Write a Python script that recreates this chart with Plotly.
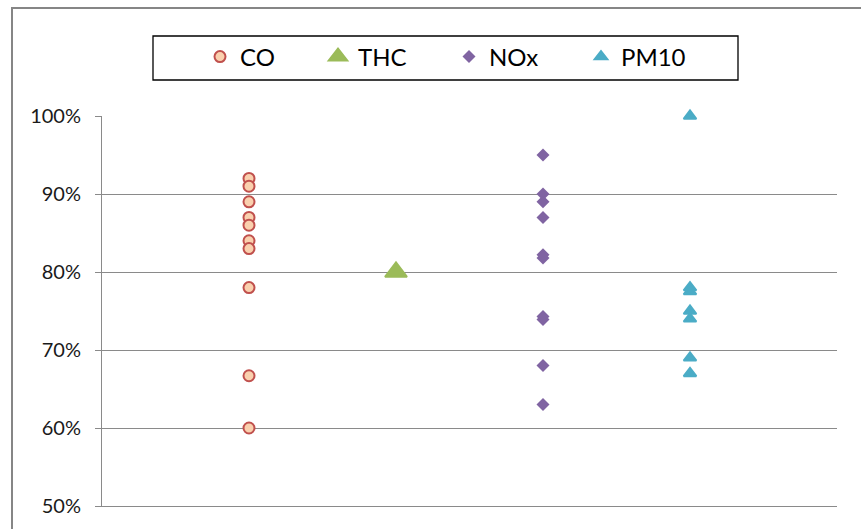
import plotly.graph_objects as go

# Emission reduction shares per pollutant
pollutants = ["CO", "THC", "NOx", "PM10"]
positions = [1, 2, 3, 4]

co_vals = [0.92, 0.91, 0.89, 0.87, 0.86, 0.84, 0.83, 0.78, 0.667, 0.60]
thc_vals = [0.80]
nox_vals = [0.95, 0.90, 0.89, 0.87, 0.822, 0.818, 0.743, 0.739, 0.68, 0.63]
pm10_vals = [1.00, 0.78, 0.775, 0.75, 0.74, 0.69, 0.67]

y_ticks = [0.5, 0.6, 0.7, 0.8, 0.9, 1.0]

W, H = 861, 529
L, R, T, B = 102, 24, 116, 23
PW, PH = W - L - R, H - T - B


def px_x(p):
    return (p - L) / PW


def px_y(p):
    return (H - B - p) / PH


FONT = "Lato"
GRID = "#8a8a8a"

fig = go.Figure()

series = [
    (pollutants[0], positions[0], co_vals,
     dict(symbol="circle", size=11, color="#FAD0AE", line=dict(color="#C0504D", width=2)), "legend"),
    (pollutants[1], positions[1], thc_vals,
     dict(symbol="triangle-up", size=19, color="#9BBB59", line=dict(color="#9BBB59", width=2)), "legend2"),
    (pollutants[2], positions[2], nox_vals,
     dict(symbol="diamond", size=10, color="#8064A2", line=dict(width=0)), "legend3"),
    (pollutants[3], positions[3], pm10_vals,
     dict(symbol="triangle-up", size=11, color="#4BACC6", line=dict(color="#4BACC6", width=2)), "legend4"),
]

for name, xpos, vals, marker, leg in series:
    fig.add_trace(go.Scatter(
        x=[xpos] * len(vals), y=vals, mode="markers", name=name,
        marker=marker, legend=leg, showlegend=True, cliponaxis=False,
    ))

legend_lefts = [200, 318, 449, 581]
legend_common = dict(
    orientation="h", xanchor="left", yanchor="middle", y=px_y(57),
    bgcolor="rgba(0,0,0,0)", borderwidth=0,
    font=dict(family=FONT, size=24, color="#000000"),
)

fig.update_layout(
    width=W, height=H,
    margin=dict(l=L, r=R, t=T, b=B),
    paper_bgcolor="white", plot_bgcolor="white",
    legend=dict(x=px_x(legend_lefts[0]), **legend_common),
    legend2=dict(x=px_x(legend_lefts[1]), **legend_common),
    legend3=dict(x=px_x(legend_lefts[2]), **legend_common),
    legend4=dict(x=px_x(legend_lefts[3]), **legend_common),
    xaxis=dict(range=[0, 5], showgrid=False, zeroline=False, showticklabels=False,
               ticks="", showline=True, linecolor=GRID, linewidth=1),
    yaxis=dict(range=[0.5, 1.0], tickvals=y_ticks, tickformat=".0%",
               showgrid=True, gridcolor=GRID, gridwidth=1, zeroline=False,
               showline=True, linecolor=GRID, linewidth=1,
               ticks="outside", ticklen=6, tickcolor=GRID,
               ticklabelstandoff=10,
               tickfont=dict(family=FONT, size=20, color="#1a1a1a")),
    shapes=[
        # chart frame
        dict(type="rect", xref="paper", yref="paper",
             x0=px_x(12), x1=px_x(880), y0=px_y(8), y1=px_y(560),
             line=dict(color="#868686", width=2), fillcolor="rgba(0,0,0,0)", layer="below"),
        # legend frame
        dict(type="rect", xref="paper", yref="paper",
             x0=px_x(153), x1=px_x(738), y0=px_y(36), y1=px_y(80),
             line=dict(color="#000000", width=1.3), fillcolor="rgba(0,0,0,0)", layer="below"),
    ],
)

fig.write_html("out.html")
